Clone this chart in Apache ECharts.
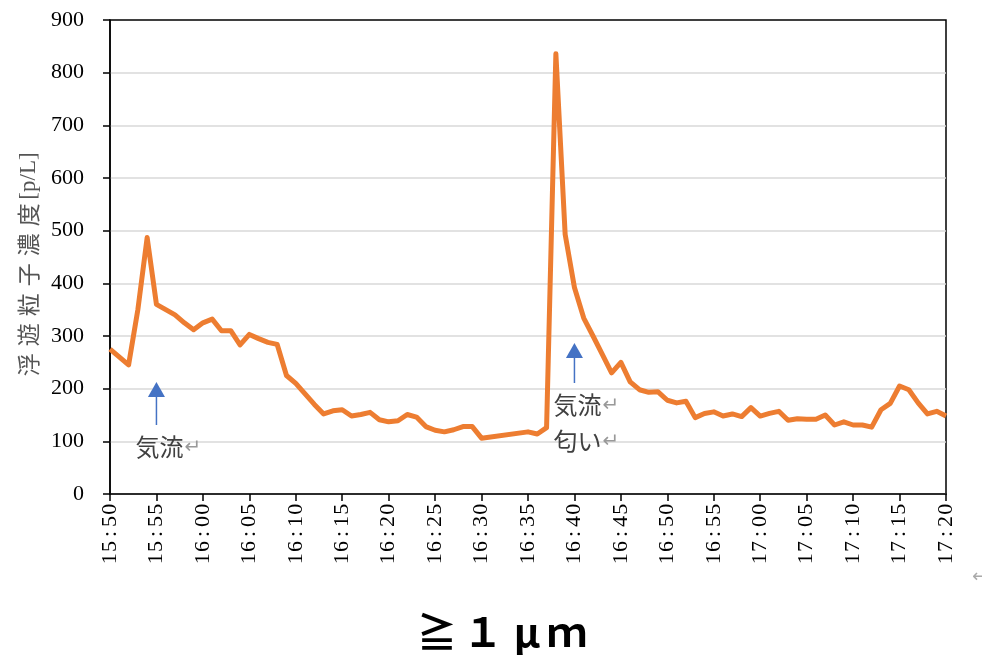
<!DOCTYPE html>
<html>
<head>
<meta charset="utf-8">
<script src="https://cdn.jsdelivr.net/npm/echarts@6/dist/echarts.min.js"></script>
<style>
html,body{margin:0;padding:0;background:#fff;}
#chart{width:982px;height:655px;}
</style>
</head>
<body>
<div id="chart"></div>
<script>
// Sample times (minutes not listed were not plotted in the source)
var times = [
 "15:50","15:52","15:53","15:54","15:55","15:56","15:57","15:58","15:59",
 "16:00","16:01","16:02","16:03","16:04","16:05","16:06","16:07","16:08","16:09",
 "16:10","16:11","16:12","16:13","16:14","16:15","16:16","16:17","16:18","16:19",
 "16:20","16:21","16:22","16:23","16:24","16:25","16:26","16:27","16:28","16:29",
 "16:30","16:35","16:36","16:37","16:38","16:39",
 "16:40","16:41","16:42","16:43","16:44","16:45","16:46","16:47","16:48","16:49",
 "16:50","16:51","16:52","16:53","16:54","16:55","16:56","16:57","16:58","16:59",
 "17:00","17:01","17:02","17:03","17:04","17:05","17:06","17:07","17:08","17:09",
 "17:10","17:11","17:12","17:13","17:14","17:15","17:16","17:17","17:18","17:19",
 "17:20"
];
var concentration = [
 275,245,350,487,360,350,340,325,312,
 325,332,310,310,283,303,295,288,284,225,
 210,190,170,152,158,160,148,151,155,141,
 137,139,151,146,128,121,118,122,128,128,
 106,118,114,126,836,493,
 392,334,300,265,230,250,213,198,193,194,
 178,173,176,145,153,156,148,152,147,164,
 148,153,157,140,143,142,142,150,131,137,
 131,131,127,160,172,205,198,173,152,157,
 148
];
var startTime = "15:50";
var endTime = "17:20";
var yTicks = [0,100,200,300,400,500,600,700,800,900];
var yAxisNameChars = ["浮","遊","粒","子","濃","度"];
var yAxisNameUnit = "[p/L]";
var chartTitleChars = ["≧","１","μ","ｍ"];
var annotations = [
  {time: "15:55", lines: ["気流"]},
  {time: "16:40", lines: ["気流", "匂い"]}
];

function toMin(t){ var p=t.split(":"); return (+p[0])*60 + (+p[1]); }
function fromMin(m){ var h=Math.floor(m/60), mm=m%60; return h+":"+(mm<10?"0":"")+mm; }
var t0 = toMin(startTime), t1 = toMin(endTime);
var seriesData = times.map(function(t,i){ return [toMin(t)-t0, concentration[i]]; });

var chart = echarts.init(document.getElementById('chart'));
var serif = '"Liberation Serif","DejaVu Serif",serif';
var yName = yAxisNameChars.map(function(c){return '{k|'+c+'}';}).join('') + '{u|'+yAxisNameUnit+'}';
var option = {
  animation: false,
  grid: {left:110, right:36, top:20, bottom:161, show:true, borderColor:'#000', borderWidth:1.5, backgroundColor:'transparent'},
  xAxis: {
    type:'value', min:0, max:t1-t0, interval:5,
    axisLine:{show:true, lineStyle:{color:'#000', width:1.5}},
    axisTick:{show:true, length:7, lineStyle:{color:'#000', width:1.5}},
    splitLine:{show:false},
    axisLabel:{
      rotate:90, margin:9, color:'#000',
      fontFamily: serif, fontSize:22,
      formatter:function(v){ return fromMin(v+t0).split('').map(function(c){return '{c|'+c+'}';}).join(''); },
      rich:{c:{width:12.4, align:'center', fontFamily:serif, fontSize:22, color:'#000'}}
    }
  },
  yAxis: {
    type:'value', min:yTicks[0], max:yTicks[yTicks.length-1], interval:yTicks[1]-yTicks[0],
    name: yName, nameLocation:'middle', nameGap:69, nameRotate:90,
    nameTextStyle:{fontFamily:'"Noto Sans CJK JP"', fontSize:23, color:'#555',
      rich:{
        k:{width:30, align:'center', fontFamily:'"Noto Sans CJK JP"', fontSize:23, color:'#555'},
        u:{fontFamily:serif, fontSize:23, color:'#555', padding:[0,18,0,0]}
      }},
    axisLine:{show:true, lineStyle:{color:'#000', width:1.5}},
    axisTick:{show:true, length:7, lineStyle:{color:'#000', width:1.5}},
    splitLine:{show:true, showMaxLine:false, lineStyle:{color:'#d9d9d9', width:1.5}},
    axisLabel:{margin:26, color:'#000', fontFamily:serif, fontSize:22}
  },
  series: [{
    type:'line', data:seriesData, showSymbol:false, symbol:'none',
    lineStyle:{color:'#ED7D31', width:5, join:'round'},
    z:3
  }]
};
chart.setOption(option);

// annotations anchored on data coordinates
var g = [];
annotations.forEach(function(a, k){
  var px = chart.convertToPixel({gridIndex:0}, [toMin(a.time)-t0, 0])[0];
  var headTop = k===0 ? 382 : 343;
  var headBot = headTop + 15;
  var shaftEnd = headBot + (k===0 ? 28 : 25);
  g.push({type:'polygon', shape:{points:[[px-8.5,headBot],[px+8.5,headBot],[px,headTop]]}, style:{fill:'#4472C4'}, z:10});
  g.push({type:'line', shape:{x1:px, y1:headBot, x2:px, y2:shaftEnd}, style:{stroke:'#4472C4', lineWidth:1.5}, z:10});
  a.lines.forEach(function(s, j){
    var ty = shaftEnd + 22 + j*36;
    g.push({type:'text', x:px-21, y:ty, style:{text:s, fill:'#404040', font:'24px "Noto Sans CJK JP"', textAlign:'left', textVerticalAlign:'middle'}, z:10});
    g.push({type:'text', x:px+28, y:ty+1, style:{text:'↵', fill:'#999', font:'20px "DejaVu Sans"', textAlign:'left', textVerticalAlign:'middle'}, z:10});
  });
});
g.push({type:'text', x:972, y:577, style:{text:'↵', fill:'#aaa', font:'18px "DejaVu Sans"', textAlign:'left', textVerticalAlign:'middle'}});
var tw = [46,46,42,38];
g.push({type:'text', x:414, y:632, style:{
  text: chartTitleChars.map(function(c,i){return '{t'+i+'|'+c+'}';}).join(''),
  rich: (function(){ var r={}; tw.forEach(function(w,i){ r['t'+i]={width:w, align:'center', font:'bold 40px "Noto Sans CJK JP"', fill:'#000'}; }); return r; })(),
  textAlign:'left', textVerticalAlign:'middle'}});
chart.setOption({graphic:g});
</script>
</body>
</html>
